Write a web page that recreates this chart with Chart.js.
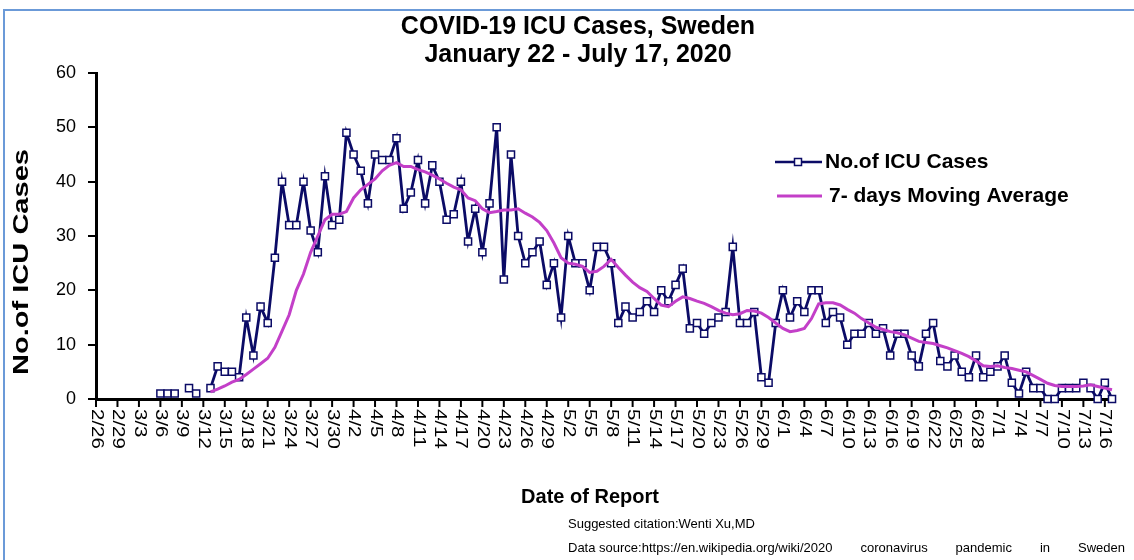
<!DOCTYPE html>
<html>
<head>
<meta charset="utf-8">
<title>COVID-19 ICU Cases, Sweden</title>
<script src="https://cdn.jsdelivr.net/npm/chart.js@4.4.1/dist/chart.umd.min.js"></script>
<style>
  html, body { margin: 0; padding: 0; background: #fff; overflow: hidden; }
  #wrap { position: relative; width: 1134px; height: 560px; }
  #icu-chart { position: absolute; left: 0; top: 0; }
  #frame { position: absolute; left: 3px; top: 9px; width: 1200px; height: 700px; border: 2px solid #6b9ad8; pointer-events: none; }
</style>
</head>
<body>
<div id="wrap">
  <canvas id="icu-chart" width="1134" height="560"></canvas>
  <div id="frame"></div>
</div>
<script>
/**
 * Data
 */
const dates = [
    "2/26", "2/27", "2/28", "2/29",
    "3/1", "3/2", "3/3", "3/4", "3/5", "3/6", "3/7", "3/8", "3/9", "3/10", "3/11", "3/12", "3/13", "3/14", "3/15", "3/16",
    "3/17", "3/18", "3/19", "3/20", "3/21", "3/22", "3/23", "3/24", "3/25", "3/26", "3/27", "3/28", "3/29", "3/30", "3/31",
    "4/1", "4/2", "4/3", "4/4", "4/5", "4/6", "4/7", "4/8", "4/9", "4/10", "4/11", "4/12", "4/13", "4/14", "4/15",
    "4/16", "4/17", "4/18", "4/19", "4/20", "4/21", "4/22", "4/23", "4/24", "4/25", "4/26", "4/27", "4/28", "4/29", "4/30",
    "5/1", "5/2", "5/3", "5/4", "5/5", "5/6", "5/7", "5/8", "5/9", "5/10", "5/11", "5/12", "5/13", "5/14", "5/15", "5/16",
    "5/17", "5/18", "5/19", "5/20", "5/21", "5/22", "5/23", "5/24", "5/25", "5/26", "5/27", "5/28", "5/29", "5/30", "5/31",
    "6/1", "6/2", "6/3", "6/4", "6/5", "6/6", "6/7", "6/8", "6/9", "6/10", "6/11", "6/12", "6/13", "6/14", "6/15",
    "6/16", "6/17", "6/18", "6/19", "6/20", "6/21", "6/22", "6/23", "6/24", "6/25", "6/26", "6/27", "6/28", "6/29", "6/30",
    "7/1", "7/2", "7/3", "7/4", "7/5", "7/6", "7/7", "7/8", "7/9", "7/10", "7/11", "7/12", "7/13", "7/14", "7/15", "7/16", "7/17"
];

// one value per date, null where nothing was reported
const icuCases = [
    null, null, null, null, null, null, null, null, null,
    1, 1, 1, null, 2, 1, null, 2, 6, 5, 5, 4,
    15, 8, 17, 14, 26, 40, 32, 32, 40, 31,
    27, 41, 32, 33, 49, 45, 42, 36, 45, 44,
    44, 48, 35, 38, 44, 36, 43, 40, 33, 34,
    40, 29, 35, 27, 36, 50, 22, 45, 30, 25,
    27, 29, 21, 25, 15, 30, 25, 25, 20, 28,
    28, 25, 14, 17, 15, 16, 18, 16, 20, 18,
    21, 24, 13, 14, 12, 14, 15, 16, 28, 14,
    14, 16, 4, 3, 14, 20, 15, 18, 16, 20,
    20, 14, 16, 15, 10, 12, 12, 14, 12, 13,
    8, 12, 12, 8, 6, 12, 14, 7, 6, 8,
    5, 4, 8, 4, 5, 6, 8, 3, 1, 5,
    2, 2, 0, 0, 2, 2, 2, 3, 2, 0, 3, 0
];

const movingAverage = [
    null, null, null, null, null, null, null, null, null, null, null, null, null, null, null, null,
    1.3, 1.8, 2.4, 3.1, 3.6,
    4.5, 5.5, 6.5, 7.5, 9.5, 12.5, 15.5, 20, 23, 27,
    30, 33, 34, 34, 34.5, 37, 38.5, 39.5, 40.5, 42,
    43, 43.5, 42.8, 42.8, 42.2, 41.8, 41.2, 40.5, 39.7, 39,
    38.5, 37, 36.5, 35, 34.3, 34.5, 34.8, 34.8, 35, 34.2,
    33.5, 32.5, 31, 28.7, 26, 25, 24.8, 24.4, 23.3, 23.5,
    24.4, 25.7, 24.2, 22.8, 21.5, 20.5, 19.8, 18.5, 17.3, 17,
    18, 18.8, 18.5, 18, 17.6, 17, 16.3, 15.8, 15.5, 15.7,
    16.3, 16.2, 15.8, 15, 14, 13, 12.4, 12.6, 13, 14.8,
    17.5, 17.7, 17.7, 17.3, 16.5, 15.8, 14.8, 14, 13.2, 12.8,
    12.4, 12.2, 11.8, 11.2, 10.6, 10.4, 10.2, 9.8, 9.4, 8.9,
    8.4, 7.8, 7, 6.1, 6, 6.1, 5.8, 5.6, 5.3, 5,
    4.3, 3.6, 2.9, 2.5, 2.3, 2.3, 2.3, 2.4, 2.6, 2.3, 2, 1.7
];

const seriesNames = ["No.of ICU Cases", "7- days Moving Average"];
const titleLines = ["COVID-19 ICU Cases, Sweden", "January 22 - July 17, 2020"];
const yTitle = "No.of ICU Cases";
const xTitle = "Date of Report";
const citation = "Suggested citation:Wenti Xu,MD";
const sourceWords = ["Data source:https://en.wikipedia.org/wiki/2020", "coronavirus", "pandemic", "in", "Sweden"];
const labelEvery = 3;

const NAVY = "#0b0b66";
const MAGENTA = "#c33fc8";
const FONT = '"Liberation Sans", Arial, sans-serif';


/**
 * Texts, x ticks and legend drawn around the chart area
 */
const chartText = {
    id: "chartText",
    afterDraw(chart) {
        const ctx = chart.ctx;
        const xScale = chart.scales.x;
        const bottom = chart.chartArea.bottom;

        ctx.save();
        ctx.fillStyle = "#000";

        // title
        ctx.textAlign = "center";
        ctx.textBaseline = "middle";
        ctx.font = "bold 25px " + FONT;
        ctx.fillText(titleLines[0], 578, 27);
        ctx.fillText(titleLines[1], 578, 55.5);

        // x tick marks and rotated date labels
        ctx.strokeStyle = "#000";
        ctx.lineWidth = 2;
        ctx.font = "16px " + FONT;
        ctx.textAlign = "left";
        for (let i = 0; i < dates.length; i += labelEvery) {
            const x = xScale.getPixelForValue(i);
            ctx.beginPath();
            ctx.moveTo(x, bottom);
            ctx.lineTo(x, bottom + 8);
            ctx.stroke();

            ctx.save();
            ctx.translate(x, bottom + 10);
            ctx.rotate(Math.PI / 2);
            ctx.scale(1.28, 1);
            ctx.fillText(dates[i], 0, 0);
            ctx.restore();
        }

        // y title
        ctx.save();
        ctx.translate(22, 262);
        ctx.rotate(-Math.PI / 2);
        ctx.scale(1.32, 1);
        ctx.textAlign = "center";
        ctx.font = "bold 22px " + FONT;
        ctx.fillText(yTitle, 0, 0);
        ctx.restore();

        // x title
        ctx.textAlign = "center";
        ctx.font = "bold 20px " + FONT;
        ctx.fillText(xTitle, 590, 497);

        // citation lines
        ctx.textAlign = "left";
        ctx.font = "13px " + FONT;
        ctx.fillText(citation, 568, 524);
        drawJustified(ctx, sourceWords, 568, 1125, 548);

        // legend
        ctx.lineWidth = 2.5;
        ctx.strokeStyle = NAVY;
        ctx.beginPath();
        ctx.moveTo(775, 162);
        ctx.lineTo(822, 162);
        ctx.stroke();
        ctx.fillStyle = "#fff";
        ctx.lineWidth = 1.5;
        ctx.fillRect(794.5, 158.5, 7, 7);
        ctx.strokeRect(794.5, 158.5, 7, 7);

        ctx.lineWidth = 3;
        ctx.strokeStyle = MAGENTA;
        ctx.beginPath();
        ctx.moveTo(777, 196);
        ctx.lineTo(822, 196);
        ctx.stroke();

        ctx.fillStyle = "#000";
        ctx.font = "bold 21px " + FONT;
        ctx.fillText(seriesNames[0], 825, 162);
        ctx.fillText(seriesNames[1], 829, 196);

        ctx.restore();
    }
};

function drawJustified(ctx, words, left, right, y) {
    var total = 0;
    for (const w of words) {
        total += ctx.measureText(w).width;
    }
    const gap = (right - left - total) / (words.length - 1);
    var x = left;
    for (const w of words) {
        ctx.fillText(w, x, y);
        x += ctx.measureText(w).width + gap;
    }
}


/**
 * Chart
 */
const icuChart = new Chart(document.getElementById("icu-chart"), {
    type: "line",
    data: {
        labels: dates,
        datasets: [
            {
                label: seriesNames[0],
                data: icuCases,
                borderColor: NAVY,
                borderWidth: 2.8,
                pointStyle: "rect",
                pointRadius: 5,
                pointBorderWidth: 1.5,
                pointBorderColor: NAVY,
                pointBackgroundColor: "#fff",
                spanGaps: false,
                tension: 0,
                clip: false,
                order: 2
            },
            {
                label: seriesNames[1],
                data: movingAverage,
                borderColor: MAGENTA,
                borderWidth: 3,
                pointRadius: 0,
                tension: 0,
                clip: false,
                order: 1
            }
        ]
    },
    options: {
        responsive: false,
        animation: false,
        events: [],
        layout: {
            padding: { top: 73, right: 22, bottom: 0, left: 0 }
        },
        plugins: {
            legend: { display: false },
            title: { display: false },
            tooltip: { enabled: false }
        },
        scales: {
            x: {
                type: "category",
                offset: false,
                grid: { display: false },
                border: { display: true, color: "#000", width: 3 },
                ticks: { display: false },
                afterFit: function(scale) {
                    scale.height = 161;
                }
            },
            y: {
                min: 0,
                max: 60,
                ticks: {
                    stepSize: 10,
                    color: "#000",
                    padding: 12,
                    font: { family: FONT, size: 18 }
                },
                grid: {
                    drawOnChartArea: false,
                    drawTicks: true,
                    tickLength: 8,
                    color: "#000",
                    lineWidth: 2
                },
                border: { display: true, color: "#000", width: 3 },
                afterFit: function(scale) {
                    scale.width = 96;
                }
            }
        }
    },
    plugins: [chartText]
});
</script>
</body>
</html>
